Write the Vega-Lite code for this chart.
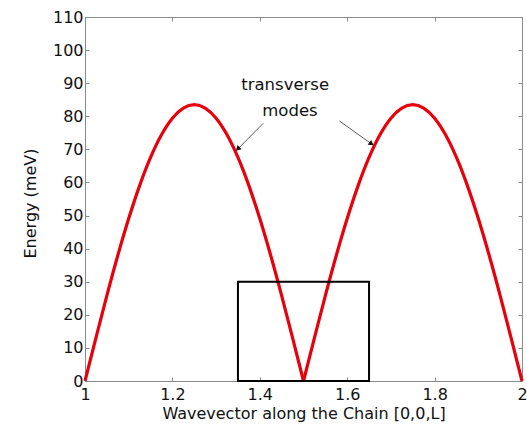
{
  "$schema": "https://vega.github.io/schema/vega-lite/v6.json",
  "width": 437,
  "height": 364,
  "autosize": {"type": "none"},
  "padding": {"left": 85, "top": 17, "right": 5, "bottom": 45},
  "background": "white",
  "config": {
    "font": "DejaVu Sans",
    "view": {"stroke": "#8a8a8a", "strokeWidth": 1},
    "axis": {
      "grid": false,
      "domainColor": "#8a8a8a",
      "tickColor": "#8a8a8a",
      "labelColor": "#111111",
      "titleColor": "#111111",
      "labelFont": "DejaVu Sans",
      "titleFont": "DejaVu Sans",
      "labelFontSize": 16,
      "titleFontSize": 16,
      "titleFontWeight": "normal",
      "tickSize": -4
    }
  },
  "datasets": {
    "curve": [
      {"L": 1.000, "E": 0, "branch": "a"},
      {"L": 1.025, "E": 13.06, "branch": "a"},
      {"L": 1.050, "E": 25.80, "branch": "a"},
      {"L": 1.075, "E": 37.91, "branch": "a"},
      {"L": 1.100, "E": 49.08, "branch": "a"},
      {"L": 1.125, "E": 59.04, "branch": "a"},
      {"L": 1.150, "E": 67.55, "branch": "a"},
      {"L": 1.175, "E": 74.40, "branch": "a"},
      {"L": 1.200, "E": 79.41, "branch": "a"},
      {"L": 1.225, "E": 82.47, "branch": "a"},
      {"L": 1.250, "E": 83.50, "branch": "a"},
      {"L": 1.275, "E": 82.47, "branch": "a"},
      {"L": 1.300, "E": 79.41, "branch": "a"},
      {"L": 1.325, "E": 74.40, "branch": "a"},
      {"L": 1.350, "E": 67.55, "branch": "a"},
      {"L": 1.375, "E": 59.04, "branch": "a"},
      {"L": 1.400, "E": 49.08, "branch": "a"},
      {"L": 1.425, "E": 37.91, "branch": "a"},
      {"L": 1.450, "E": 25.80, "branch": "a"},
      {"L": 1.475, "E": 13.06, "branch": "a"},
      {"L": 1.500, "E": 0, "branch": "a"},
      {"L": 1.500, "E": 0, "branch": "b"},
      {"L": 1.525, "E": 13.06, "branch": "b"},
      {"L": 1.550, "E": 25.80, "branch": "b"},
      {"L": 1.575, "E": 37.91, "branch": "b"},
      {"L": 1.600, "E": 49.08, "branch": "b"},
      {"L": 1.625, "E": 59.04, "branch": "b"},
      {"L": 1.650, "E": 67.55, "branch": "b"},
      {"L": 1.675, "E": 74.40, "branch": "b"},
      {"L": 1.700, "E": 79.41, "branch": "b"},
      {"L": 1.725, "E": 82.47, "branch": "b"},
      {"L": 1.750, "E": 83.50, "branch": "b"},
      {"L": 1.775, "E": 82.47, "branch": "b"},
      {"L": 1.800, "E": 79.41, "branch": "b"},
      {"L": 1.825, "E": 74.40, "branch": "b"},
      {"L": 1.850, "E": 67.55, "branch": "b"},
      {"L": 1.875, "E": 59.04, "branch": "b"},
      {"L": 1.900, "E": 49.08, "branch": "b"},
      {"L": 1.925, "E": 37.91, "branch": "b"},
      {"L": 1.950, "E": 25.80, "branch": "b"},
      {"L": 1.975, "E": 13.06, "branch": "b"},
      {"L": 2.000, "E": 0, "branch": "b"}
    ],
    "box": [{"L1": 1.35, "L2": 1.65, "E1": 0, "E2": 30}],
    "labels": [
      {"L": 1.458, "E": 89.4, "text": "transverse"},
      {"L": 1.469, "E": 81.6, "text": "modes"}
    ],
    "arrows": [
      {"name": "left", "L1": 1.408, "E1": 77.9, "L2": 1.351, "E2": 70.3},
      {"name": "right", "L1": 1.582, "E1": 78.6, "L2": 1.654, "E2": 71.8}
    ]
  },
  "layer": [
    {
      "data": {"name": "curve"},
      "mark": {"type": "line", "color": "#e8000b", "strokeWidth": 3.2, "interpolate": "monotone"},
      "encoding": {
        "x": {
          "field": "L", "type": "quantitative",
          "scale": {"domain": [1, 2], "nice": false, "zero": false},
          "axis": {"orient": "bottom", "values": [1, 1.2, 1.4, 1.6, 1.8, 2], "format": "~g", "title": "Wavevector along the Chain [0,0,L]", "labelPadding": 9, "titlePadding": 3, "labelFlush": false}
        },
        "y": {
          "field": "E", "type": "quantitative",
          "scale": {"domain": [0, 110], "nice": false},
          "axis": {"orient": "left", "values": [0, 10, 20, 30, 40, 50, 60, 70, 80, 90, 100, 110], "title": "Energy (meV)", "labelPadding": 6, "titlePadding": 14, "titleY": 186}
        },
        "detail": {"field": "branch"}
      }
    },
    {
      "data": {"name": "box"},
      "mark": {"type": "rect", "filled": false, "stroke": "black", "strokeWidth": 2},
      "encoding": {
        "x": {"field": "L1", "type": "quantitative", "axis": {"orient": "top", "values": [1, 1.2, 1.4, 1.6, 1.8, 2], "labels": false, "title": null}},
        "x2": {"field": "L2"},
        "y": {"field": "E1", "type": "quantitative", "axis": {"orient": "right", "values": [0, 10, 20, 30, 40, 50, 60, 70, 80, 90, 100, 110], "labels": false, "title": null}},
        "y2": {"field": "E2"}
      }
    },
    {
      "data": {"name": "labels"},
      "mark": {"type": "text", "font": "DejaVu Sans", "fontSize": 16.5, "color": "#111111"},
      "encoding": {
        "x": {"field": "L", "type": "quantitative", "axis": null},
        "y": {"field": "E", "type": "quantitative", "axis": null},
        "text": {"field": "text"}
      }
    },
    {
      "data": {"name": "arrows"},
      "mark": {"type": "rule", "color": "#333333", "strokeWidth": 0.8},
      "encoding": {
        "x": {"field": "L1", "type": "quantitative", "axis": null},
        "y": {"field": "E1", "type": "quantitative", "axis": null},
        "x2": {"field": "L2"},
        "y2": {"field": "E2"}
      }
    },
    {
      "data": {"name": "arrows"},
      "transform": [{"filter": "datum.name === 'left'"}],
      "mark": {"type": "point", "shape": "triangle", "filled": true, "color": "#111111", "size": 35, "angle": 225, "opacity": 1},
      "encoding": {
        "x": {"field": "L2", "type": "quantitative", "axis": null},
        "y": {"field": "E2", "type": "quantitative", "axis": null}
      }
    },
    {
      "data": {"name": "arrows"},
      "transform": [{"filter": "datum.name === 'right'"}],
      "mark": {"type": "point", "shape": "triangle", "filled": true, "color": "#111111", "size": 35, "angle": 125, "opacity": 1},
      "encoding": {
        "x": {"field": "L2", "type": "quantitative", "axis": null},
        "y": {"field": "E2", "type": "quantitative", "axis": null}
      }
    }
  ],
  "resolve": {"axis": {"x": "independent", "y": "independent"}}
}
